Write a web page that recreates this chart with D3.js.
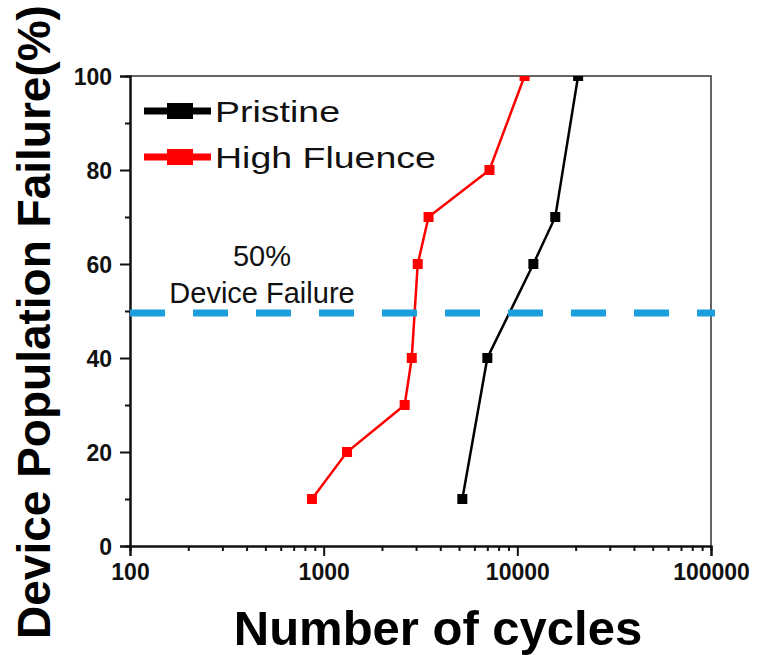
<!DOCTYPE html>
<html>
<head>
<meta charset="utf-8">
<script src="https://cdn.jsdelivr.net/npm/d3@7"></script>
<style>
  body { margin: 0; background: #fff; }
  text { font-family: Arial, "Liberation Sans", sans-serif; }
</style>
</head>
<body>
<svg id="chart" width="759" height="655"></svg>
<script>
// failure percentages (shared y values)
const pristinePct = [10, 40, 60, 70, 100]
const pristineCycles = [5200, 7000, 12100, 15700, 20600]

const fluencePct = [10, 20, 30, 40, 60, 70, 80, 100]
const fluenceCycles = [870, 1320, 2620, 2850, 3060, 3480, 7180, 10900]

const seriesNames = ['Pristine', 'High Fluence']
const seriesColours = ['#000000', '#ff0000']

const xMajorTicks = [100, 1000, 10000, 100000]
const yMajorTicks = [0, 20, 40, 60, 80, 100]
const yMinorTicks = [10, 30, 50, 70, 90]
const thresholdPct = 50

const margin = { top: 76, right: 48, bottom: 109, left: 130 }
const W = 759
const H = 655
const innerW = W - margin.left - margin.right
const innerH = H - margin.top - margin.bottom

const svg = d3.select('svg#chart')
svg.append('rect').attr('width', W).attr('height', H).attr('fill', '#fff')

const x = d3.scaleLog().domain([100, 100000]).range([0, innerW])
const y = d3.scaleLinear().domain([0, 100]).range([innerH, 0])

const g = svg.append('g').attr('transform', `translate(${margin.left},${margin.top})`)

// minor log ticks 2..9 per decade
const xMinorTicks = []
xMajorTicks.slice(0, -1).forEach(d => {
  for (let k = 2; k <= 9; k++) xMinorTicks.push(d * k)
})

// frame top / right
g.append('path')
  .attr('d', `M0,0H${innerW}V${innerH}`)
  .attr('fill', 'none')
  .attr('stroke', '#333')
  .attr('stroke-width', 1.5)

// axes
const xAxis = g.append('g')
  .attr('transform', `translate(0,${innerH})`)
  .call(d3.axisBottom(x).tickValues(xMajorTicks).tickFormat(d3.format('d')).tickSizeOuter(0).tickSize(10).tickPadding(8))
xAxis.selectAll('text').attr('font-size', 23).attr('font-weight', 'bold').attr('fill', '#111')

g.append('g')
  .attr('transform', `translate(0,${innerH})`)
  .call(d3.axisBottom(x).tickValues(xMinorTicks).tickFormat('').tickSizeOuter(0).tickSize(5))

const yAxis = g.append('g')
  .call(d3.axisLeft(y).tickValues(yMajorTicks).tickSizeOuter(0).tickSize(10).tickPadding(8))
yAxis.selectAll('text').attr('font-size', 23).attr('font-weight', 'bold').attr('fill', '#111').attr('dy', '0.36em')

g.append('g')
  .call(d3.axisLeft(y).tickValues(yMinorTicks).tickFormat('').tickSizeOuter(0).tickSize(5))

g.selectAll('.domain, .tick line').attr('stroke', '#111').attr('stroke-width', 2)

// clip for data
g.append('clipPath').attr('id', 'plotclip')
  .append('rect').attr('width', innerW).attr('height', innerH)

const series = [
  { name: seriesNames[0], colour: seriesColours[0], pts: pristineCycles.map((c, i) => [c, pristinePct[i]]) },
  { name: seriesNames[1], colour: seriesColours[1], pts: fluenceCycles.map((c, i) => [c, fluencePct[i]]) }
]

const line = d3.line().x(d => x(d[0])).y(d => y(d[1]))
const dataG = g.append('g').attr('clip-path', 'url(#plotclip)')

series.forEach(s => {
  dataG.append('path')
    .attr('d', line(s.pts))
    .attr('fill', 'none')
    .attr('stroke', s.colour)
    .attr('stroke-width', 2.5)
  dataG.selectAll(null)
    .data(s.pts)
    .join('rect')
    .attr('x', d => x(d[0]) - 5)
    .attr('y', d => y(d[1]) - 5)
    .attr('width', 10)
    .attr('height', 10)
    .attr('fill', s.colour)
})

// 50% threshold dashed line
g.append('line')
  .attr('x1', 0)
  .attr('x2', innerW + 4)
  .attr('y1', y(thresholdPct) + 2)
  .attr('y2', y(thresholdPct) + 2)
  .attr('stroke', '#1a9fdc')
  .attr('stroke-width', 7)
  .attr('stroke-dasharray', '35,28')

g.append('text')
  .attr('x', 132)
  .attr('y', y(thresholdPct) - 45)
  .attr('text-anchor', 'middle')
  .attr('font-size', 29)
  .attr('fill', '#111')
  .text('50%')
g.append('text')
  .attr('x', 132)
  .attr('y', y(thresholdPct) - 8)
  .attr('text-anchor', 'middle')
  .attr('font-size', 29)
  .attr('fill', '#111')
  .text('Device Failure')

// legend
const legend = g.append('g').attr('transform', 'translate(14,35)')
series.forEach((s, i) => {
  const row = legend.append('g').attr('transform', `translate(0,${i * 46})`)
  row.append('line')
    .attr('x1', 0).attr('x2', 67)
    .attr('stroke', s.colour).attr('stroke-width', 7)
  row.append('rect')
    .attr('x', 23).attr('y', -8).attr('width', 26).attr('height', 16)
    .attr('fill', s.colour)
  row.append('text')
    .attr('transform', 'translate(71,11) scale(1.25,1)')
    .attr('font-size', 30)
    .attr('fill', '#111')
    .text(s.name)
})

// axis titles
svg.append('text')
  .attr('x', 438)
  .attr('y', 645)
  .attr('text-anchor', 'middle')
  .attr('font-size', 49)
  .attr('font-weight', 'bold')
  .attr('fill', '#000')
  .text('Number of cycles')

svg.append('text')
  .attr('transform', 'translate(50,322) rotate(-90)')
  .attr('text-anchor', 'middle')
  .attr('font-size', 46)
  .attr('font-weight', 'bold')
  .attr('fill', '#000')
  .text('Device Population Failure(%)')
</script>
</body>
</html>
